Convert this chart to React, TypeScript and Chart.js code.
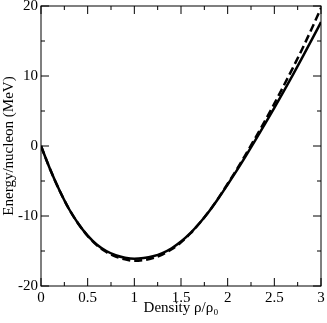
import { useEffect, useRef } from "react";
import { Chart, registerables } from "chart.js";

Chart.register(...registerables);

const density = [0, 0.1, 0.2, 0.3, 0.4, 0.5, 0.6, 0.7, 0.8, 0.9, 1.0, 1.1, 1.2, 1.3, 1.4, 1.5, 1.6, 1.7, 1.8, 1.9, 2.0, 2.1, 2.2, 2.3, 2.4, 2.5, 2.6, 2.7, 2.8, 2.9, 3.0];
const energySolid = [0, -3.4, -6.4, -9.0, -11.1, -12.8, -14.1, -15.0, -15.6, -15.95, -16.1, -16.0, -15.75, -15.3, -14.6, -13.65, -12.45, -11.0, -9.35, -7.5, -5.5, -3.45, -1.3, 0.9, 3.15, 5.45, 7.8, 10.2, 12.65, 15.15, 17.7];
const energyDashed = [0, -3.4, -6.4, -9.0, -11.1, -12.85, -14.2, -15.15, -15.8, -16.2, -16.4, -16.3, -16.0, -15.5, -14.75, -13.75, -12.5, -11.0, -9.35, -7.45, -5.4, -3.3, -1.05, 1.25, 3.6, 6.05, 8.6, 11.2, 13.9, 16.75, 19.7];

const xMajorTicks = [0, 0.5, 1, 1.5, 2, 2.5, 3];
const xMinorTicks = [0.25, 0.75, 1.25, 1.75, 2.25, 2.75];
const yMajorTicks = [-20, -10, 0, 10, 20];
const yMinorTicks = [-15, -5, 5, 15];

const FONT = "'Liberation Serif', 'Times New Roman', serif";

const framePlugin = {
  id: "frameTicks",
  afterDraw(chart: any) {
    const { ctx, chartArea: a, scales } = chart;
    const xs = scales.x;
    const ys = scales.y;
    ctx.save();
    ctx.strokeStyle = "#000";
    ctx.lineWidth = 1;
    ctx.strokeRect(a.left, a.top, a.right - a.left, a.bottom - a.top);
    const drawX = (v: number, len: number) => {
      const px = xs.getPixelForValue(v);
      ctx.beginPath();
      ctx.moveTo(px, a.bottom);
      ctx.lineTo(px, a.bottom - len);
      ctx.moveTo(px, a.top);
      ctx.lineTo(px, a.top + len);
      ctx.stroke();
    };
    const drawY = (v: number, len: number) => {
      const py = ys.getPixelForValue(v);
      ctx.beginPath();
      ctx.moveTo(a.left, py);
      ctx.lineTo(a.left + len, py);
      ctx.moveTo(a.right, py);
      ctx.lineTo(a.right - len, py);
      ctx.stroke();
    };
    xMajorTicks.forEach((v) => drawX(v, 8));
    xMinorTicks.forEach((v) => drawX(v, 4));
    yMajorTicks.forEach((v) => drawY(v, 8));
    yMinorTicks.forEach((v) => drawY(v, 4));
    ctx.restore();
  },
};

export default function App() {
  const ref = useRef<HTMLCanvasElement>(null);

  useEffect(() => {
    if (!ref.current) return;
    const chart = new Chart(ref.current, {
      type: "line",
      data: {
        datasets: [
          {
            label: "solid",
            data: density.map((d, i) => ({ x: d, y: energySolid[i] })),
            borderColor: "#000",
            borderWidth: 2.5,
            pointRadius: 0,
            cubicInterpolationMode: "monotone",
            fill: false,
          },
          {
            label: "dashed",
            data: density.map((d, i) => ({ x: d, y: energyDashed[i] })),
            borderColor: "#000",
            borderWidth: 2.5,
            borderDash: [8, 4],
            pointRadius: 0,
            cubicInterpolationMode: "monotone",
            fill: false,
          },
        ],
      },
      options: {
        responsive: false,
        animation: false,
        devicePixelRatio: 1,
        layout: { padding: { top: 6, right: 6, left: 0, bottom: 0 } },
        plugins: { legend: { display: false }, tooltip: { enabled: false } },
        scales: {
          x: {
            type: "linear",
            min: 0,
            max: 3,
            grid: { display: false, drawTicks: false },
            border: { display: false },
            ticks: {
              stepSize: 0.5,
              autoSkip: false,
              maxRotation: 0,
              padding: 3,
              color: "#000",
              font: { family: FONT, size: 15 },
              callback: (v: any) => String(Number(v)),
            },
            title: {
              display: true,
              text: "Density ρ/ρ₀",
              color: "#000",
              font: { family: FONT, size: 15 },
              padding: { top: 0, bottom: 6 },
            },
            afterFit: (s: any) => {
              s.height = 37;
              s.paddingLeft = 0;
              s.paddingRight = 0;
            },
          },
          y: {
            type: "linear",
            min: -20,
            max: 20,
            grid: { display: false, drawTicks: false },
            border: { display: false },
            ticks: {
              stepSize: 10,
              autoSkip: false,
              padding: 3,
              color: "#000",
              font: { family: FONT, size: 15 },
              callback: (v: any) => String(Number(v)),
            },
            title: {
              display: true,
              text: "Energy/nucleon (MeV)",
              color: "#000",
              font: { family: FONT, size: 15 },
              padding: { top: 0, bottom: 0 },
            },
            afterFit: (s: any) => {
              s.width = 41;
              s.paddingTop = 0;
              s.paddingBottom = 0;
            },
          },
        },
      },
      plugins: [framePlugin],
    });
    return () => chart.destroy();
  }, []);

  return (
    <div style={{ position: "fixed", left: 0, top: 0, width: 327, height: 323, background: "#fff" }}>
      <canvas ref={ref} width={327} height={323} />
    </div>
  );
}
